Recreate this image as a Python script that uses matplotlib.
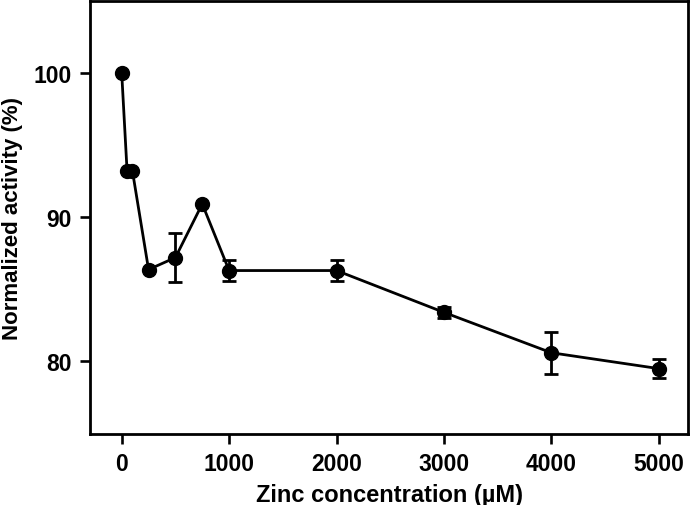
import matplotlib
matplotlib.use("Agg")
import matplotlib.pyplot as plt

# zinc concentration (uM) vs normalized activity (%)
zinc = [0, 50, 100, 250, 500, 750, 1000, 2000, 3000, 4000, 5000]
activity = [100.0, 93.2, 93.2, 86.37, 87.2, 90.92, 86.3, 86.3, 83.4, 80.6, 79.5]
err = [0, 0, 0, 0, 1.7, 0, 0.7, 0.7, 0.4, 1.45, 0.65]

xticks = [0, 1000, 2000, 3000, 4000, 5000]
yticks = [80, 90, 100]

plt.rcParams['font.family'] = ['Liberation Sans', 'DejaVu Sans']
plt.rcParams['font.weight'] = 'bold'

fig = plt.figure(figsize=(6.93, 5.06), dpi=100)
ax = fig.add_axes([0.1299, 0.1413, 0.863, 0.855])

ax.plot(zinc, activity, color='black', marker='o', markersize=10, linewidth=2)
# error bars only where there is an error (no stray caps on the others)
idx = [i for i, e in enumerate(err) if e > 0]
ax.errorbar([zinc[i] for i in idx], [activity[i] for i in idx],
            yerr=[err[i] for i in idx], fmt='none', ecolor='black',
            elinewidth=2, capsize=4.8, capthick=2)

ax.set_xlim(-295, 5273)
ax.set_ylim(75, 105)
ax.set_xticks(xticks)
ax.set_yticks(yticks)
ax.tick_params(direction='out', length=7, width=1.9, labelsize=16.5, pad=6)
for lbl in ax.get_xticklabels() + ax.get_yticklabels():
    lbl.set_fontweight('bold')
for s in ax.spines.values():
    s.set_linewidth(2)

ax.set_xlabel('Zinc concentration (µM)', fontsize=17, fontweight='bold', labelpad=6)
ax.set_ylabel('Normalized activity (%)', fontsize=16, fontweight='bold')
ax.yaxis.set_label_coords(-0.112, 0.5)

fig.savefig('out.png', dpi=100)
